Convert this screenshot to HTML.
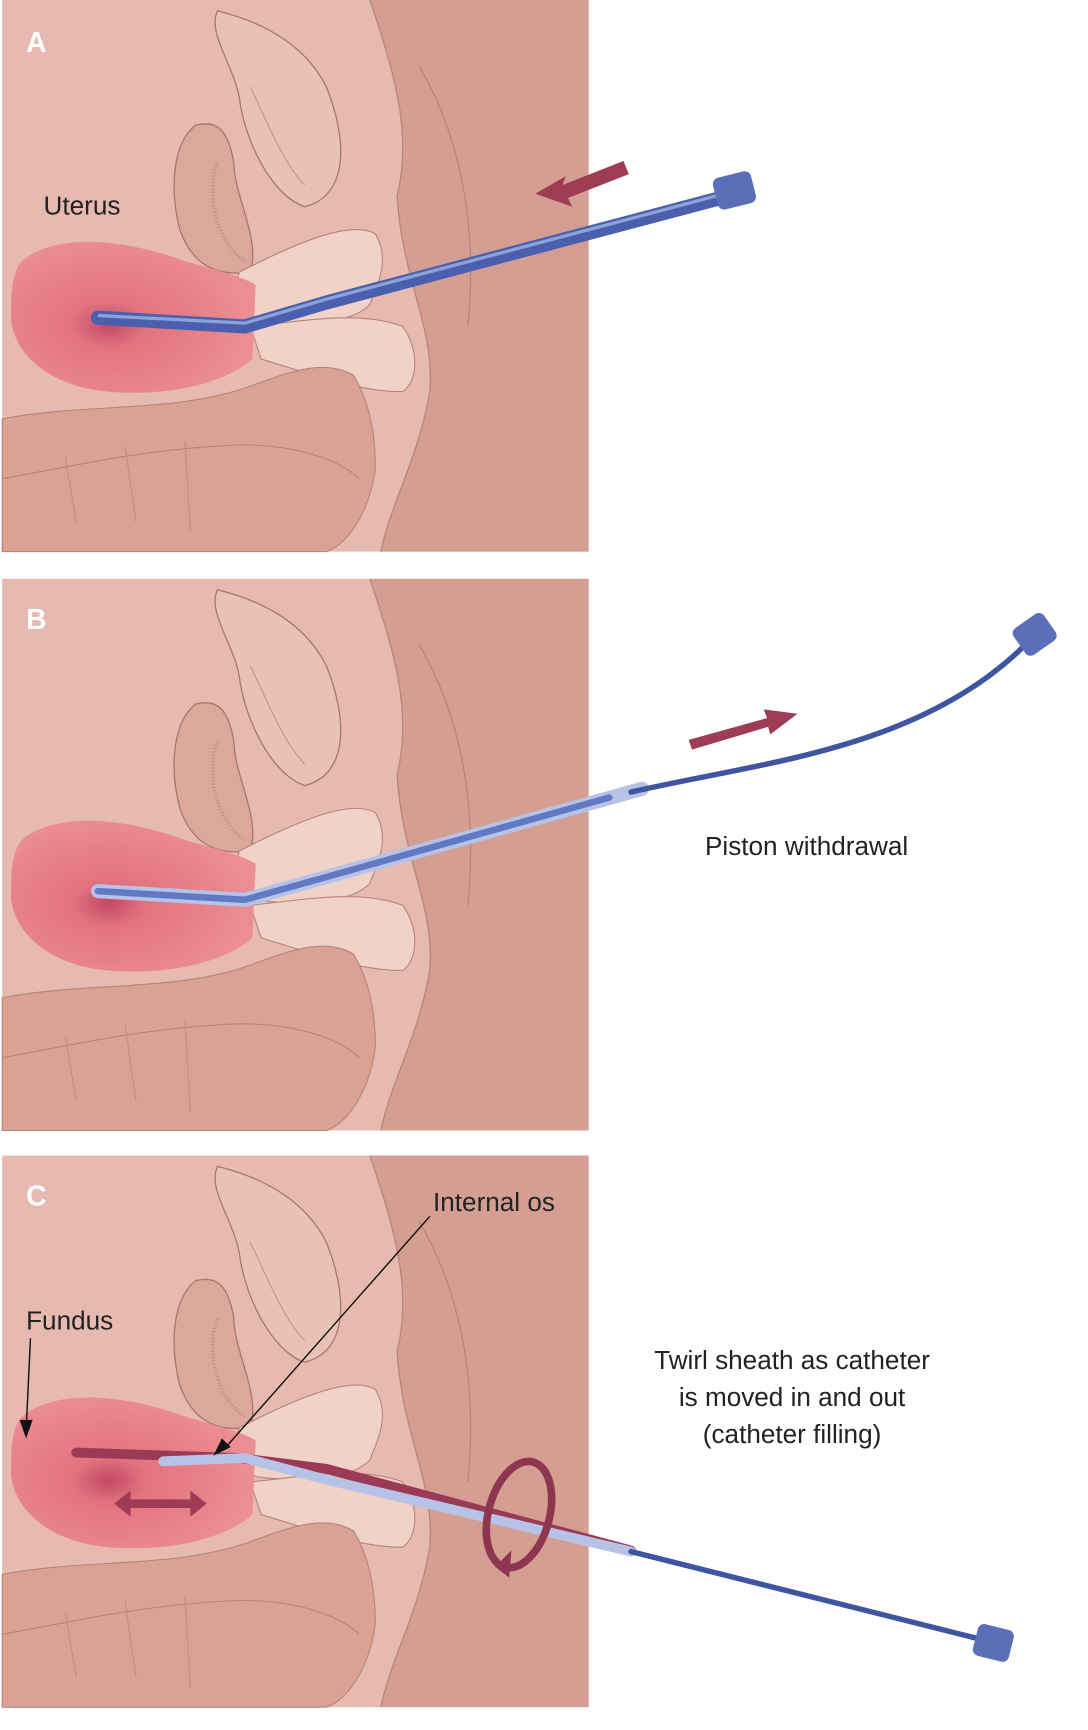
<!DOCTYPE html>
<html><head><meta charset="utf-8"><style>
html,body{margin:0;padding:0;background:#fff;}
svg{display:block;}
text{font-family:"Liberation Sans",sans-serif;fill:#222;}
</style></head><body>
<svg width="1088" height="1730" viewBox="0 0 1000 1590" preserveAspectRatio="none" xmlns="http://www.w3.org/2000/svg">
<defs>
<radialGradient id="ut" cx="0.4" cy="0.55" r="0.6">
<stop offset="0" stop-color="#c24866"/><stop offset="0.25" stop-color="#e2737f"/><stop offset="1" stop-color="#ec8f92"/>
</radialGradient>
<g id="panel">
<rect x="2" y="0" width="539" height="507" fill="#e6bab0"/>
<path d="M340 0 C360 60 380 120 365 180 C370 260 400 300 395 360 C385 420 360 460 350 507 L541 507 L541 0 Z" fill="#d59e92"/>
<path d="M340 0 C360 60 380 120 365 180 C370 260 400 300 395 360 C385 420 360 460 350 507" fill="none" stroke="#b9857a" stroke-width="1.2"/>
<path d="M385 60 C420 120 440 200 430 300" fill="none" stroke="#b9857a" stroke-width="1.2"/>
<path d="M200 10 C190 30 215 60 220 90 C225 130 250 180 280 190 C320 180 320 130 300 80 C280 40 240 20 200 10 Z" fill="#e8c2b7" stroke="#a8766d" stroke-width="1.2"/>
<path d="M230 80 C245 110 260 150 280 170" fill="none" stroke="#c39388" stroke-width="1"/>
<path d="M180 115 C160 130 155 170 165 210 C175 240 195 255 230 250 C240 220 215 180 215 150 C210 120 200 110 180 115 Z" fill="#dba89b" stroke="#a8766d" stroke-width="1.2"/>
<path d="M200 150 C190 170 195 220 225 240" fill="none" stroke="#c08e83" stroke-width="3" stroke-dasharray="1 2"/>
<path d="M220 250 C260 230 320 200 345 215 C360 240 345 265 340 280 C320 300 270 300 235 295 C220 285 215 265 220 250 Z" fill="#f0d2c6" stroke="#b58479" stroke-width="1"/>
<path d="M230 300 C280 295 330 285 370 300 C385 320 385 350 370 360 C330 360 290 345 240 330 Z" fill="#f0d2c6" stroke="#b58479" stroke-width="1"/>
<path d="M2 385 C80 370 160 380 230 355 C270 340 300 330 325 345 C340 370 345 400 345 430 C340 470 320 500 300 507 L2 507 Z" fill="#d9a295" stroke="#b58479" stroke-width="1"/>
<path d="M2 440 C60 430 120 415 200 410 C260 405 310 420 330 440" fill="none" stroke="#b58479" stroke-width="1"/>
<path d="M60 420 L70 480 M115 410 L125 480 M170 405 L175 490" stroke="#c08e83" stroke-width="1"/>
<path d="M20 240 C50 215 110 218 170 240 C205 250 225 255 235 262 L232 330 C210 350 160 365 100 360 C40 355 10 320 10 290 C10 265 12 250 20 240 Z" fill="url(#ut)"/>
</g>
</defs>

<use href="#panel" x="0" y="0"/>
<text x="24" y="48" font-size="26" font-weight="bold" style="fill:#fff">A</text>
<text x="40" y="197" font-size="24">Uterus</text>
<path d="M90 292 L225 300 L300 278 L685 176" fill="none" stroke="#4a5fae" stroke-width="13" stroke-linecap="round" stroke-linejoin="round"/>
<path d="M90 290 L225 297 L300 275 L685 173" fill="none" stroke="#9fb2e4" stroke-width="3" opacity="0.8"/>
<rect x="657" y="160" width="36" height="30" rx="6" fill="#5a6fb8" transform="rotate(-14 675 175)"/>
<polygon points="492,178 520,162 517,170 573,148 578,160 522,182 526,190" fill="#9e3b55"/>

<use href="#panel" x="0" y="532"/>
<text x="24" y="578" font-size="26" font-weight="bold" style="fill:#fff">B</text>
<path d="M90 819 L225 827 L300 806 L590 725" fill="none" stroke="#b7c3e6" stroke-width="13" stroke-linecap="round" stroke-linejoin="round"/>
<path d="M90 819 L225 827 L300 806 L560 733" fill="none" stroke="#6179c2" stroke-width="6" stroke-linecap="round"/>
<path d="M580 728 C700 700 850 690 950 585" fill="none" stroke="#3f559f" stroke-width="5" stroke-linecap="round"/>
<rect x="934" y="568" width="34" height="30" rx="6" fill="#5a6fb8" transform="rotate(-35 951 583)"/>
<polygon points="633,680 705,660 702,652 733,656 708,675 706,668 636,689" fill="#9e3b55"/>
<text x="648" y="786" font-size="24">Piston withdrawal</text>

<use href="#panel" x="0" y="1062"/>
<text x="24" y="1108" font-size="26" font-weight="bold" style="fill:#fff">C</text>
<path d="M70 1335 L220 1340 L300 1350 L580 1425" fill="none" stroke="#9a3a55" stroke-width="9" stroke-linecap="round"/>
<path d="M150 1343 L225 1340 L300 1360 L580 1426" fill="none" stroke="#b7c3e6" stroke-width="9" stroke-linecap="round" stroke-linejoin="round"/>
<path d="M580 1426 L915 1510" fill="none" stroke="#3f559f" stroke-width="5" stroke-linecap="round"/>
<rect x="896" y="1495" width="34" height="30" rx="6" fill="#5a6fb8" transform="rotate(14 913 1510)"/>
<ellipse cx="477" cy="1392" rx="28" ry="50" fill="none" stroke="#8e3550" stroke-width="7" transform="rotate(15 477 1392)"/>
<polygon points="455,1440 470,1425 468,1450" fill="#8e3550"/>
<polygon points="105,1382 120,1370 120,1378 175,1378 175,1370 190,1382 175,1394 175,1386 120,1386 120,1394" fill="#9e3b55"/>
<text x="24" y="1222" font-size="24">Fundus</text>
<path d="M28 1230 L24 1315" stroke="#111" stroke-width="1.3"/>
<polygon points="18,1305 30,1305 24,1322" fill="#111"/>
<text x="398" y="1113" font-size="24">Internal os</text>
<path d="M395 1118 L205 1333" stroke="#111" stroke-width="1.3"/>
<polygon points="196,1338 204,1322 212,1330" fill="#111"/>
<text x="728" y="1258" font-size="24" text-anchor="middle">Twirl sheath as catheter</text>
<text x="728" y="1292" font-size="24" text-anchor="middle">is moved in and out</text>
<text x="728" y="1326" font-size="24" text-anchor="middle">(catheter filling)</text>
</svg>
</body></html>
